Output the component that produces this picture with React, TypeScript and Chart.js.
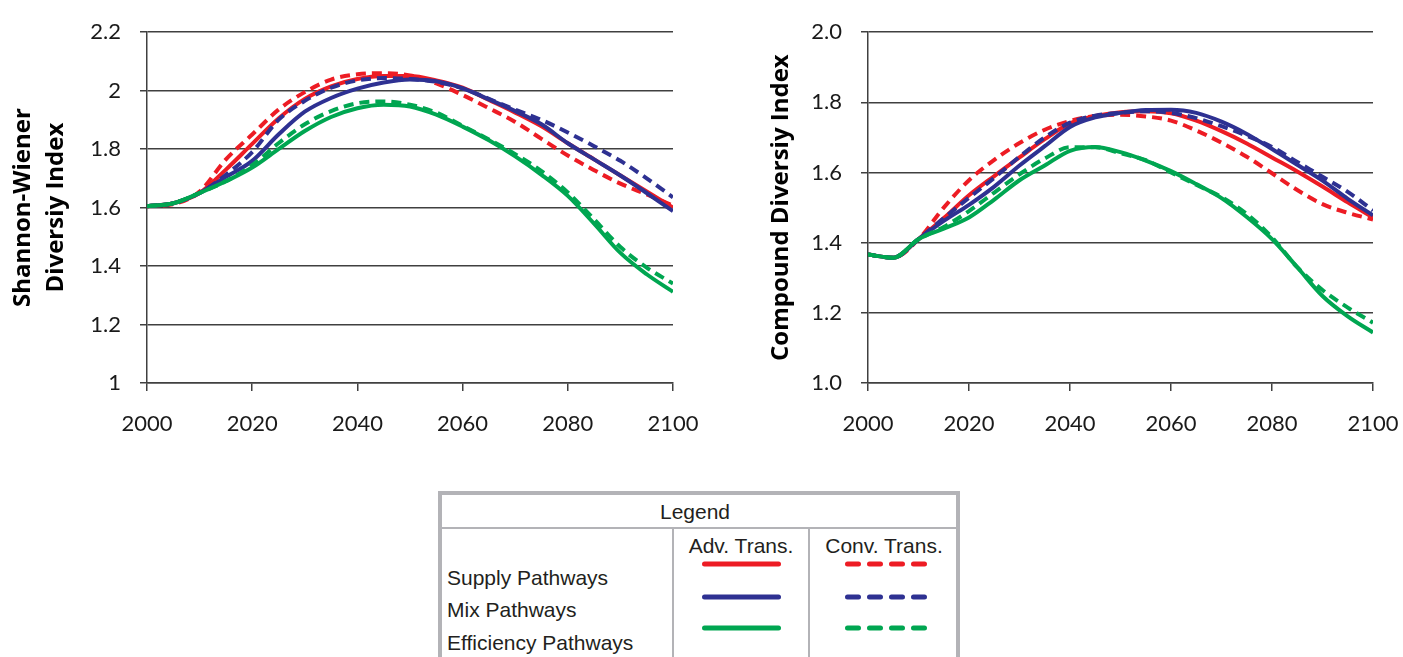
import React, { useEffect, useRef } from 'react';
import { Chart, registerables } from 'chart.js';

Chart.register(...registerables);

// ---------- data ----------
const years = [2000, 2005, 2010, 2015, 2020, 2025, 2030, 2035, 2040, 2045, 2050, 2055, 2060, 2065, 2070, 2075, 2080, 2085, 2090, 2095, 2100];

// Shannon-Wiener Diversity Index
const swSupplyAdv = [1.605, 1.615, 1.65, 1.73, 1.818, 1.905, 1.972, 2.015, 2.04, 2.05, 2.05, 2.035, 2.01, 1.968, 1.925, 1.878, 1.82, 1.765, 1.71, 1.655, 1.6];
const swSupplyConv = [1.605, 1.612, 1.655, 1.765, 1.85, 1.935, 1.995, 2.038, 2.056, 2.06, 2.052, 2.025, 1.985, 1.94, 1.893, 1.835, 1.778, 1.728, 1.682, 1.645, 1.607];
const swMixAdv = [1.605, 1.615, 1.65, 1.705, 1.76, 1.85, 1.928, 1.975, 2.007, 2.028, 2.038, 2.032, 2.008, 1.97, 1.93, 1.885, 1.82, 1.765, 1.71, 1.65, 1.588];
const swMixConv = [1.605, 1.615, 1.65, 1.712, 1.79, 1.9, 1.965, 2.01, 2.035, 2.043, 2.04, 2.03, 2.008, 1.972, 1.935, 1.9, 1.857, 1.81, 1.76, 1.7, 1.635];
const swEffAdv = [1.605, 1.615, 1.65, 1.69, 1.737, 1.8, 1.862, 1.91, 1.94, 1.952, 1.946, 1.918, 1.877, 1.83, 1.775, 1.712, 1.64, 1.545, 1.445, 1.372, 1.312];
const swEffConv = [1.605, 1.615, 1.65, 1.69, 1.745, 1.82, 1.885, 1.93, 1.957, 1.963, 1.952, 1.925, 1.88, 1.833, 1.783, 1.725, 1.652, 1.56, 1.465, 1.395, 1.34];

// Compound Diversity Index
const cdSupplyAdv = [1.366, 1.357, 1.41, 1.47, 1.535, 1.59, 1.643, 1.695, 1.74, 1.761, 1.772, 1.775, 1.769, 1.748, 1.718, 1.683, 1.643, 1.603, 1.56, 1.515, 1.472];
const cdSupplyConv = [1.366, 1.357, 1.41, 1.5, 1.578, 1.636, 1.684, 1.722, 1.747, 1.761, 1.765, 1.76, 1.748, 1.72, 1.685, 1.645, 1.598, 1.55, 1.51, 1.485, 1.466];
const cdMixAdv = [1.366, 1.357, 1.41, 1.462, 1.508, 1.56, 1.62, 1.675, 1.73, 1.757, 1.77, 1.778, 1.779, 1.77, 1.745, 1.71, 1.667, 1.622, 1.577, 1.525, 1.478];
const cdMixConv = [1.366, 1.357, 1.41, 1.47, 1.528, 1.585, 1.645, 1.7, 1.742, 1.762, 1.77, 1.775, 1.77, 1.755, 1.732, 1.705, 1.673, 1.63, 1.588, 1.545, 1.492];
const cdEffAdv = [1.366, 1.357, 1.41, 1.44, 1.472, 1.523, 1.578, 1.62, 1.662, 1.673, 1.658, 1.634, 1.604, 1.567, 1.527, 1.473, 1.41, 1.33, 1.248, 1.19, 1.144];
const cdEffConv = [1.366, 1.357, 1.41, 1.445, 1.49, 1.543, 1.595, 1.64, 1.672, 1.672, 1.655, 1.635, 1.6, 1.565, 1.53, 1.482, 1.415, 1.33, 1.265, 1.215, 1.172];

// ticks
const xTickYears = [2000, 2020, 2040, 2060, 2080, 2100];
const swTickValues = [1, 1.2, 1.4, 1.6, 1.8, 2, 2.2];
const swTickLabels = ['1', '1.2', '1.4', '1.6', '1.8', '2', '2.2'];
const cdTickValues = [1, 1.2, 1.4, 1.6, 1.8, 2];
const cdTickLabels = ['1.0', '1.2', '1.4', '1.6', '1.8', '2.0'];

// legend
const legendRows = ['Supply Pathways', 'Mix Pathways', 'Efficiency Pathways'];
const legendCols = ['Adv. Trans.', 'Conv. Trans.'];

// ---------- styles ----------
const RED = '#ED1C24';
const BLUE = '#2E3192';
const GREEN = '#00A651';
const GRID = '#404040';
const TICK_FONT = { family: 'Lato, "Open Sans", sans-serif', size: 22 };

type Series = { values: number[]; color: string; dashed: boolean };

const swSeries: Series[] = [
  { values: swEffAdv, color: GREEN, dashed: false },
  { values: swEffConv, color: GREEN, dashed: true },
  { values: swMixAdv, color: BLUE, dashed: false },
  { values: swMixConv, color: BLUE, dashed: true },
  { values: swSupplyAdv, color: RED, dashed: false },
  { values: swSupplyConv, color: RED, dashed: true },
];
const cdSeries: Series[] = [
  { values: cdEffAdv, color: GREEN, dashed: false },
  { values: cdEffConv, color: GREEN, dashed: true },
  { values: cdMixAdv, color: BLUE, dashed: false },
  { values: cdMixConv, color: BLUE, dashed: true },
  { values: cdSupplyAdv, color: RED, dashed: false },
  { values: cdSupplyConv, color: RED, dashed: true },
];

type PanelProps = {
  series: Series[];
  tickValues: number[];
  tickLabels: string[];
  title: string[];
  left: number;
  width: number;
  height: number;
  yAxisWidth: number;
  padRight: number;
  padTop: number;
  plotBottom: number;
  titlePad: number;
};

function Panel(p: PanelProps) {
  const ref = useRef<HTMLCanvasElement | null>(null);
  useEffect(() => {
    if (!ref.current) return;
    const chart = new Chart(ref.current, {
      type: 'line',
      data: {
        datasets: p.series.map((s) => ({
          data: years.map((x, i) => ({ x, y: s.values[i] })),
          borderColor: s.color,
          backgroundColor: s.color,
          borderWidth: 4,
          borderDash: s.dashed ? [10, 6] : [],
          pointRadius: 0,
          fill: false,
          tension: 0.4,
          cubicInterpolationMode: 'monotone' as const,
        })),
      },
      options: {
        animation: false,
        responsive: false,
        maintainAspectRatio: false,
        layout: { padding: { left: 0, right: p.padRight, top: p.padTop, bottom: 0 } },
        plugins: { legend: { display: false }, tooltip: { enabled: false } },
        scales: {
          x: {
            type: 'linear',
            min: 2000,
            max: 2100,
            afterBuildTicks: (a: any) => {
              a.ticks = xTickYears.map((v) => ({ value: v }));
            },
            afterFit: (s: any) => {
              s.height = p.height - p.plotBottom;
            },
            grid: { drawOnChartArea: false, drawTicks: true, tickLength: 8, color: GRID, lineWidth: 1.5 },
            border: { display: true, color: GRID, width: 1.5 },
            ticks: {
              font: TICK_FONT,
              color: '#1a1a1a',
              padding: 20,
              maxRotation: 0,
              autoSkip: false,
              callback: (v: any) => String(v),
            },
          },
          y: {
            type: 'linear',
            min: p.tickValues[0],
            max: p.tickValues[p.tickValues.length - 1],
            afterBuildTicks: (a: any) => {
              a.ticks = p.tickValues.map((v) => ({ value: v }));
            },
            afterFit: (s: any) => {
              s.width = p.yAxisWidth;
            },
            grid: { color: GRID, lineWidth: 1.5, drawTicks: true, tickLength: 7 },
            border: { display: true, color: GRID, width: 1.5 },
            ticks: {
              font: TICK_FONT,
              color: '#1a1a1a',
              padding: 19,
              callback: (v: any) => {
                const idx = p.tickValues.findIndex((t) => Math.abs(t - Number(v)) < 1e-6);
                return idx >= 0 ? p.tickLabels[idx] : '';
              },
            },
            title: {
              display: true,
              text: p.title,
              color: '#000',
              font: { family: '"Open Sans", sans-serif', size: 24, weight: 'bold', lineHeight: 1.4 },
              padding: { top: p.titlePad, bottom: 0 },
            },
          },
        },
      } as any,
    });
    return () => chart.destroy();
  }, []);
  return (
    <canvas
      ref={ref}
      width={p.width}
      height={p.height}
      style={{ position: 'absolute', left: p.left, top: 0, width: p.width, height: p.height }}
    />
  );
}

function LegendBox() {
  const gray = '#B3B3B7';
  const textStyle: React.CSSProperties = {
    position: 'absolute',
    fontFamily: '"Liberation Sans", Arial, sans-serif',
    fontSize: 21,
    lineHeight: '26px',
    color: '#231F20',
    whiteSpace: 'nowrap',
  };
  const colors = [RED, BLUE, GREEN];
  const lineYs = [564, 597, 628];
  const rowBaselines = [585, 617, 650];
  return (
    <>
      <div
        style={{
          position: 'absolute',
          left: 438,
          top: 491,
          width: 522,
          height: 220,
          border: `4px solid ${gray}`,
          boxSizing: 'border-box',
        }}
      />
      <div style={{ position: 'absolute', left: 442, top: 527, width: 514, height: 2, background: gray }} />
      <div style={{ position: 'absolute', left: 672, top: 529, width: 2, height: 200, background: gray }} />
      <div style={{ position: 'absolute', left: 808, top: 529, width: 2, height: 200, background: gray }} />
      <div style={{ ...textStyle, left: 595, width: 200, textAlign: 'center', top: 519 - 20 }}>Legend</div>
      <div style={{ ...textStyle, left: 641, width: 200, textAlign: 'center', top: 553 - 20 }}>{legendCols[0]}</div>
      <div style={{ ...textStyle, left: 784, width: 200, textAlign: 'center', top: 553 - 20 }}>{legendCols[1]}</div>
      {legendRows.map((r, i) => (
        <div key={r} style={{ ...textStyle, left: 447, top: rowBaselines[i] - 20 }}>
          {r}
        </div>
      ))}
      <svg style={{ position: 'absolute', left: 0, top: 0 }} width={1403} height={657}>
        {colors.map((c, i) => (
          <g key={c}>
            <line x1={704.5} x2={778.5} y1={lineYs[i]} y2={lineYs[i]} stroke={c} strokeWidth={5} strokeLinecap="round" />
            <line
              x1={847.5}
              x2={925}
              y1={lineYs[i]}
              y2={lineYs[i]}
              stroke={c}
              strokeWidth={5}
              strokeLinecap="round"
              strokeDasharray="11 11"
            />
          </g>
        ))}
      </svg>
    </>
  );
}

export default function App() {
  return (
    <div
      style={{
        position: 'absolute',
        left: 0,
        top: 0,
        width: 1403,
        height: 657,
        overflow: 'hidden',
        background: '#fff',
      }}
    >
      <Panel
        series={swSeries}
        tickValues={swTickValues}
        tickLabels={swTickLabels}
        title={['Shannon-Wiener', 'Diversiy Index']}
        left={0}
        width={720}
        height={450}
        yAxisWidth={147}
        padRight={47}
        padTop={24}
        plotBottom={383}
        titlePad={6}
      />
      <Panel
        series={cdSeries}
        tickValues={cdTickValues}
        tickLabels={cdTickLabels}
        title={['Compound Diversiy Index']}
        left={720}
        width={700}
        height={450}
        yAxisWidth={148}
        padRight={47}
        padTop={24}
        plotBottom={383}
        titlePad={44}
      />
      <LegendBox />
    </div>
  );
}
